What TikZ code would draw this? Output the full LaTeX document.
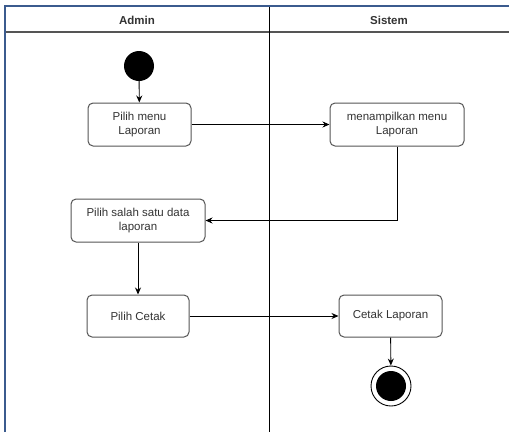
\documentclass[tikz,border=0pt]{standalone}
\usepackage{fontspec}
\setmainfont{Liberation Sans}
\usetikzlibrary{arrows.meta}
\definecolor{framecol}{HTML}{3B5B8E}
\definecolor{boxline}{HTML}{555555}
\definecolor{txt}{HTML}{333333}
\begin{document}
\begin{tikzpicture}[x=1pt,y=-1pt,
  act/.style={draw=boxline,line width=1pt,rounded corners=5pt,fill=white,
    inner sep=0pt,align=center,font=\fontsize{11.5}{14.5}\selectfont,text=txt},
  flow/.style={draw=black,line width=0.9pt,-{Stealth[length=7pt,width=6pt]}},
  lane/.style={font=\bfseries\fontsize{11.5}{13}\selectfont,text=txt}]
\useasboundingbox (0,0) rectangle (509,432);
\fill[white] (0,0) rectangle (509,432);

% swimlane frame
\draw[boxline,line width=1.5pt] (5,32) -- (509,32);
\draw[black,line width=0.9pt] (269,6) -- (269,432);
\draw[framecol,line width=2.5pt] (5,432) -- (5,6) -- (509,6);
\node[lane] (hAdmin) at (137,20) {Admin};
\node[lane] (hSistem) at (389,20) {Sistem};

% start and end states
\node[circle,fill=black,minimum size=30pt,inner sep=0pt] (start) at (139,66) {};
\node[circle,draw=black,line width=0.9pt,fill=white,minimum size=40pt,inner sep=0pt] (endo) at (391,386) {};
\node[circle,fill=black,minimum size=30pt,inner sep=0pt] (endi) at (391,386) {};

% activities
\node[act,minimum width=103pt,minimum height=43pt] (menu) at (139.5,124.5) {Pilih menu\\Laporan};
\node[act,minimum width=134pt,minimum height=43pt] (tampil) at (397,124.5) {menampilkan menu\\Laporan};
\node[act,minimum width=134pt,minimum height=43pt] (salah) at (138,220.5) {Pilih salah satu data\\laporan};
\node[act,minimum width=102pt,minimum height=42pt] (cetak) at (138,316) {Pilih Cetak};
\node[act,minimum width=103pt,minimum height=42pt] (lap) at (390.5,316) {Cetak Laporan};

% control flow
\draw[flow] (start) -- (menu);
\draw[flow] (menu) -- (tampil);
\draw[flow] (tampil.south) |- (salah.east);
\draw[flow] (salah) -- (cetak);
\draw[flow] (cetak) -- (lap);
\draw[flow] (lap) -- (endo);
\end{tikzpicture}
\end{document}
